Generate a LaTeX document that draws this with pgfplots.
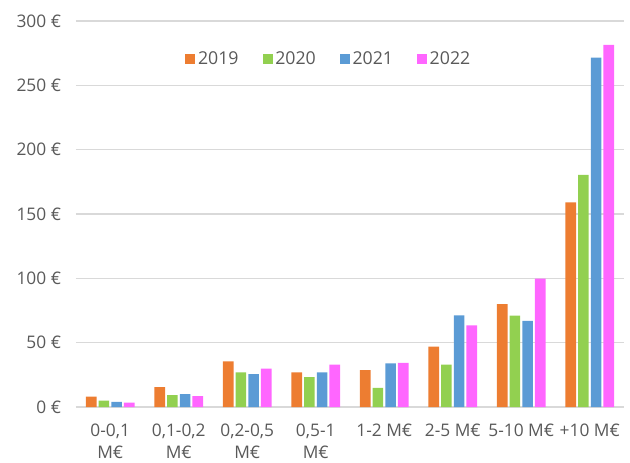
\documentclass[border=0pt]{standalone}
\usepackage{pgfplots}
\pgfplotsset{compat=1.18}
\usepackage{fontspec}
\setmainfont{Open Sans}
\definecolor{c19}{HTML}{ED7D31}
\definecolor{c20}{HTML}{92D050}
\definecolor{c21}{HTML}{5B9BD5}
\definecolor{c22}{HTML}{FF66FF}
\definecolor{txt}{HTML}{595959}
\definecolor{gridc}{HTML}{D9D9D9}
\begin{document}
\begin{tikzpicture}
\begin{axis}[
  name=ax,
  scale only axis,
  width=411pt, height=289.5pt,
  ymin=0, ymax=300, xmin=-0.5, xmax=7.5,
  ybar=1.6pt, bar width=7.9pt,
  axis line style={draw=none},
  major tick length=0pt,
  ymajorgrids, grid style={gridc, line width=0.9pt},
  ytick={0,50,100,150,200,250,300},
  yticklabels={0 €,50 €,100 €,150 €,200 €,250 €,300 €},
  xtick={0,1,2,3,4,5,6,7},
  xticklabels={{0-0,1\\M€},{0,1-0,2\\M€},{0,2-0,5\\M€},{0,5-1\\M€},{1-2 M€},{2-5 M€},{5-10 M€},{+10 M€}},
  ticklabel style={font=\fontsize{13}{16.5}\selectfont, text=txt},
  xticklabel style={align=center, yshift=-9pt},
  yticklabel style={xshift=-7.7pt},
  /pgf/number format/assume math mode=true,
  legend columns=4,
  legend style={draw=none, fill=none, at={(0.462,0.902)}, anchor=center,
    font=\fontsize{13.3}{15}\selectfont, text=txt,
    /tikz/every odd column/.append style={column sep=0pt},
    /tikz/every even column/.append style={column sep=16pt}},
  legend image code/.code={\fill[#1,draw=none] (0pt,-3.75pt) rectangle (7.5pt,3.75pt);},
]
\addplot[fill=c19, draw=none] coordinates {(0,8) (1,15.5) (2,35.5) (3,27) (4,28.6) (5,47) (6,80) (7,159)};
\addplot[fill=c20, draw=none] coordinates {(0,5) (1,9.3) (2,27) (3,23.3) (4,14.8) (5,33) (6,71) (7,180.5)};
\addplot[fill=c21, draw=none] coordinates {(0,4) (1,10) (2,25.6) (3,27) (4,34) (5,71.3) (6,67) (7,271.5)};
\addplot[fill=c22, draw=none] coordinates {(0,3.5) (1,8.5) (2,29.8) (3,33) (4,34.3) (5,63.5) (6,99.7) (7,281.4)};
\legend{2019,2020,2021,2022}
\end{axis}
\pgfresetboundingbox
\path (ax.south west) ++(-57pt,-41.25pt) coordinate (bl);
\path (ax.south west) ++(415.5pt,305.25pt) coordinate (tr);
\path (bl) rectangle (tr);
\end{tikzpicture}
\end{document}
